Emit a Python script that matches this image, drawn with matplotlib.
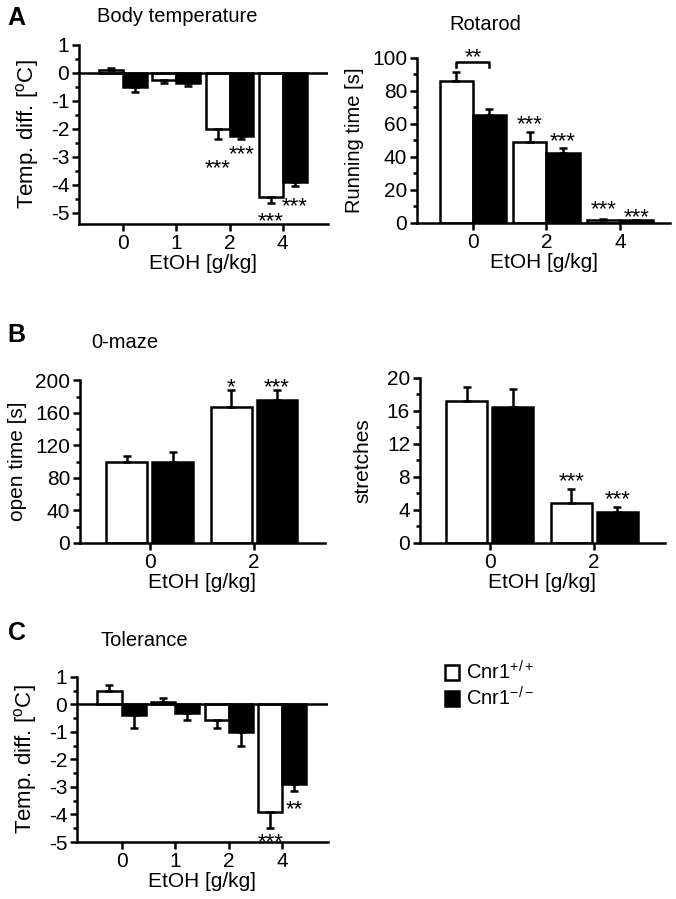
import matplotlib
matplotlib.use("Agg")
import matplotlib.pyplot as plt
from matplotlib.patches import Patch
from matplotlib.ticker import MultipleLocator
import numpy as np

plt.rcParams["font.family"] = ["Liberation Sans", "DejaVu Sans"]
plt.rcParams["font.size"] = 14.5
plt.rcParams["axes.unicode_minus"] = False
plt.rcParams["mathtext.fontset"] = "custom"
plt.rcParams["mathtext.rm"] = "Liberation Sans"
plt.rcParams["mathtext.it"] = "Liberation Sans"

# ---- data ----
# A: body temperature
temp_doses = ["0", "1", "2", "4"]
temp_wt = [0.1, -0.25, -2.0, -4.45]
temp_wt_err = [0.08, 0.1, 0.35, 0.2]
temp_ko = [-0.5, -0.35, -2.25, -3.9]
temp_ko_err = [0.2, 0.12, 0.12, 0.15]

# A: rotarod
rot_doses = ["0", "2", "4"]
rot_wt = [86, 49, 2]
rot_wt_err = [5, 6, 0.5]
rot_ko = [65, 42, 1.5]
rot_ko_err = [4, 3.5, 0.3]

# B: 0-maze
maze_doses = ["0", "2"]
open_wt = [99, 167]
open_wt_err = [8, 21]
open_ko = [100, 176]
open_ko_err = [12, 12]
stretch_wt = [17.2, 4.8]
stretch_wt_err = [1.7, 1.7]
stretch_ko = [16.5, 3.7]
stretch_ko_err = [2.1, 0.6]

# C: tolerance
tol_wt = [0.5, 0.1, -0.55, -3.9]
tol_wt_err = [0.2, 0.15, 0.3, 0.6]
tol_ko = [-0.4, -0.3, -1.0, -2.9]
tol_ko_err = [0.45, 0.25, 0.5, 0.25]

# significance marks: (group index, genotype 0=wt 1=ko, text, y)
temp_stars = [(2, 0, "***", -3.2), (2, 1, "***", -2.72), (3, 0, "***", -5.1), (3, 1, "***", -4.55)]
rot_stars = [(1, 0, "***", 63), (1, 1, "***", 53), (2, 0, "***", 12), (2, 1, "***", 7)]
open_stars = [(1, 0, "*", 198), (1, 1, "***", 198)]
stretch_stars = [(1, 0, "***", 8.2), (1, 1, "***", 6.0)]
tol_stars = [(3, 0, "***", -4.8), (3, 1, "**", -3.6)]

LW = 1.8
STAR_FS = 16


def one_sided(vals, errs):
    vals = np.array(vals)
    errs = np.array(errs)
    lower = np.where(vals < 0, errs, 0)
    upper = np.where(vals >= 0, errs, 0)
    return [lower, upper]


def star(ax, x, y, txt):
    # asterisks sit high in the glyph box, so shift the anchor down a bit
    ax.annotate(txt, (x, y), xytext=(0, -0.28 * STAR_FS), textcoords="offset points",
                ha="center", va="center", fontsize=STAR_FS, annotation_clip=False)


def bar_panel(ax, labels, wt, wt_err, ko, ko_err, width, offset, stars):
    x = np.arange(len(labels))
    ax.bar(x - offset, wt, width, color="white", edgecolor="black", linewidth=LW, zorder=2)
    ax.bar(x + offset, ko, width, color="black", edgecolor="black", linewidth=LW, zorder=2)
    ax.errorbar(x - offset, wt, yerr=one_sided(wt, wt_err), fmt="none", ecolor="black",
                elinewidth=LW, capsize=3, capthick=LW, zorder=3)
    ax.errorbar(x + offset, ko, yerr=one_sided(ko, ko_err), fmt="none", ecolor="black",
                elinewidth=LW, capsize=3, capthick=LW, zorder=3)
    for g, s, txt, y in stars:
        xs = g - offset if s == 0 else g + offset
        star(ax, xs, y, txt)
    ax.set_xticks(x)
    ax.set_xticklabels(labels)
    for side in ["top", "right"]:
        ax.spines[side].set_visible(False)
    for side in ["left", "bottom"]:
        ax.spines[side].set_linewidth(LW)
    ax.tick_params(axis="both", which="major", length=5, width=LW, pad=2, labelsize=15)
    ax.tick_params(axis="y", which="minor", length=3, width=LW)
    ax.set_xlabel("EtOH [g/kg]", labelpad=1, fontsize=15)


fig = plt.figure(figsize=(6.76, 8.99), dpi=100)

# A left: body temperature
ax1 = fig.add_axes([0.117, 0.751, 0.368, 0.199])
bar_panel(ax1, temp_doses, temp_wt, temp_wt_err, temp_ko, temp_ko_err, 0.45, 0.225, temp_stars)
ax1.axhline(0, color="black", linewidth=LW, zorder=4)
ax1.set_xlim(-0.83, 3.85)
ax1.set_ylim(-5.4, 1.0)
ax1.yaxis.set_major_locator(MultipleLocator(1))
ax1.yaxis.set_minor_locator(MultipleLocator(0.5))
ax1.set_ylabel("Temp. diff. [$^{\\mathrm{o}}$C]", labelpad=7, fontsize=16)

# A right: rotarod
ax2 = fig.add_axes([0.617, 0.752, 0.374, 0.184])
bar_panel(ax2, rot_doses, rot_wt, rot_wt_err, rot_ko, rot_ko_err, 0.45, 0.225, rot_stars)
ax2.set_xlim(-0.76, 2.68)
ax2.set_ylim(0, 100)
ax2.yaxis.set_major_locator(MultipleLocator(20))
ax2.yaxis.set_minor_locator(MultipleLocator(10))
ax2.set_ylabel("Running time [s]", labelpad=6)
ax2.plot([-0.225, -0.225, 0.225, 0.225], [94.5, 97.6, 97.6, 94], color="black",
         linewidth=LW, clip_on=False)
star(ax2, 0, 103.5, "**")

# B left: open time
ax3 = fig.add_axes([0.118, 0.396, 0.363, 0.181])
bar_panel(ax3, maze_doses, open_wt, open_wt_err, open_ko, open_ko_err, 0.39, 0.22, open_stars)
ax3.set_xlim(-0.67, 1.68)
ax3.set_ylim(0, 200)
ax3.yaxis.set_major_locator(MultipleLocator(40))
ax3.yaxis.set_minor_locator(MultipleLocator(20))
ax3.set_ylabel("open time [s]", labelpad=6, fontsize=15)

# B right: stretches
ax4 = fig.add_axes([0.621, 0.396, 0.363, 0.184])
bar_panel(ax4, maze_doses, stretch_wt, stretch_wt_err, stretch_ko, stretch_ko_err, 0.39, 0.22, stretch_stars)
ax4.set_xlim(-0.67, 1.68)
ax4.set_ylim(0, 20)
ax4.yaxis.set_major_locator(MultipleLocator(4))
ax4.yaxis.set_minor_locator(MultipleLocator(2))
ax4.set_ylabel("stretches", labelpad=10, fontsize=15)

# C: tolerance
ax5 = fig.add_axes([0.114, 0.0634, 0.371, 0.1836])
bar_panel(ax5, temp_doses, tol_wt, tol_wt_err, tol_ko, tol_ko_err, 0.45, 0.225, tol_stars)
ax5.axhline(0, color="black", linewidth=LW, zorder=4)
ax5.set_xlim(-0.83, 3.85)
ax5.set_ylim(-5.0, 1.0)
ax5.yaxis.set_major_locator(MultipleLocator(1))
ax5.yaxis.set_minor_locator(MultipleLocator(0.5))
ax5.set_ylabel("Temp. diff. [$^{\\mathrm{o}}$C]", labelpad=7, fontsize=16)

# panel letters and titles
fig.text(16 / 676, 1 - 18 / 899, "A", fontsize=18, fontweight="bold", ha="center", va="center")
fig.text(16 / 676, 1 - 335 / 899, "B", fontsize=18, fontweight="bold", ha="center", va="center")
fig.text(17 / 676, 1 - 633 / 899, "C", fontsize=18, fontweight="bold", ha="center", va="center")
fig.text(177 / 676, 1 - 17 / 899, "Body temperature", ha="center", va="center")
fig.text(485 / 676, 1 - 25 / 899, "Rotarod", ha="center", va="center")
fig.text(125 / 676, 1 - 342 / 899, "0-maze", ha="center", va="center")
fig.text(144 / 676, 1 - 640 / 899, "Tolerance", ha="center", va="center")

# legend
handles = [Patch(facecolor="white", edgecolor="black", linewidth=LW),
           Patch(facecolor="black", edgecolor="black", linewidth=LW)]
fig.legend(handles, ["Cnr1$^{+/+}$", "Cnr1$^{-/-}$"], loc="upper left",
           bbox_to_anchor=(445 / 676, 1 - 660 / 899), frameon=False,
           handlelength=0.7, handleheight=0.75, handletextpad=0.35,
           labelspacing=0.15, borderpad=0, borderaxespad=0)

fig.savefig("out.png", dpi=100)
